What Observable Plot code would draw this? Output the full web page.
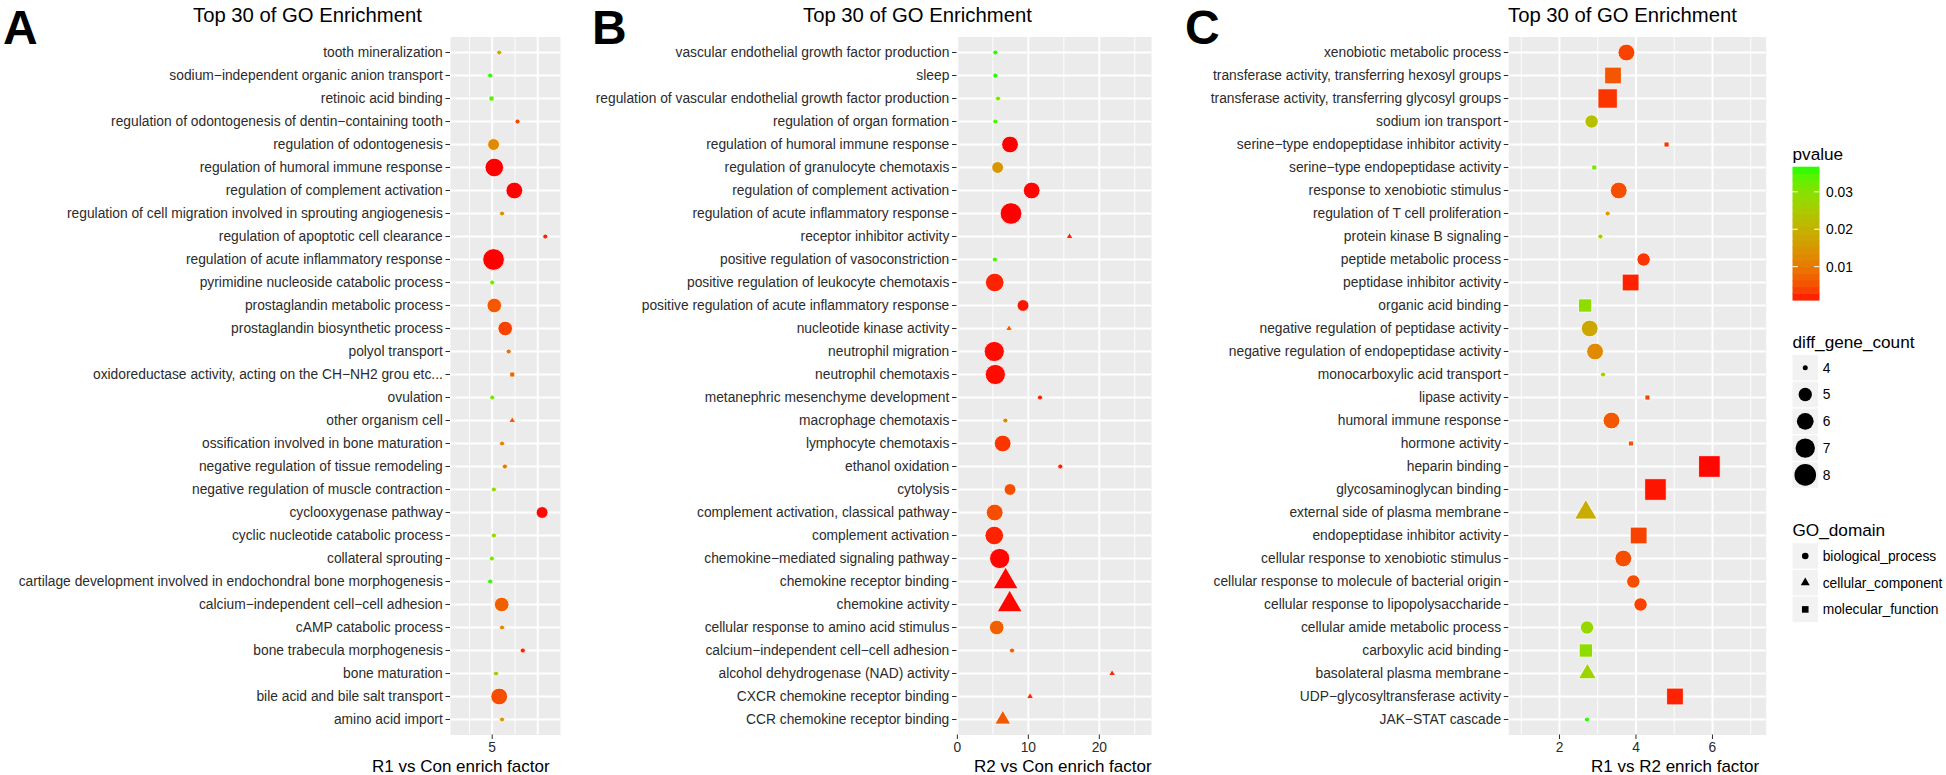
<!DOCTYPE html>
<html>
<head>
<meta charset="utf-8">
<script src="https://cdn.jsdelivr.net/npm/d3@7"></script>
<script src="https://cdn.jsdelivr.net/npm/@observablehq/plot@0.6"></script>
<style>
  html, body { margin: 0; padding: 0; background: #fff; }
  #root { position: relative; width: 1946px; height: 775px; overflow: hidden;
          font-family: "Liberation Sans", Arial, Helvetica, sans-serif; color: #000; }
  .abs { position: absolute; white-space: nowrap; line-height: 1; }
  .letter { font-weight: bold; font-size: 48px; line-height: normal; }
  .title { font-size: 20.3px; }
  .axtitle { font-size: 17px; }
</style>
</head>
<body>
<div id="root"></div>
<script>
// ---------------- DATA ----------------
const BP = "biological_process", CC = "cellular_component", MF = "molecular_function";
const goLevels = [BP, CC, MF];

// Panel A : R1 vs Con
const termsA = [
  "tooth mineralization",
  "sodium\u2212independent organic anion transport",
  "retinoic acid binding",
  "regulation of odontogenesis of dentin\u2212containing tooth",
  "regulation of odontogenesis",
  "regulation of humoral immune response",
  "regulation of complement activation",
  "regulation of cell migration involved in sprouting angiogenesis",
  "regulation of apoptotic cell clearance",
  "regulation of acute inflammatory response",
  "pyrimidine nucleoside catabolic process",
  "prostaglandin metabolic process",
  "prostaglandin biosynthetic process",
  "polyol transport",
  "oxidoreductase activity, acting on the CH\u2212NH2 grou etc...",
  "ovulation",
  "other organism cell",
  "ossification involved in bone maturation",
  "negative regulation of tissue remodeling",
  "negative regulation of muscle contraction",
  "cyclooxygenase pathway",
  "cyclic nucleotide catabolic process",
  "collateral sprouting",
  "cartilage development involved in endochondral bone morphogenesis",
  "calcium\u2212independent cell\u2212cell adhesion",
  "cAMP catabolic process",
  "bone trabecula morphogenesis",
  "bone maturation",
  "bile acid and bile salt transport",
  "amino acid import"
];
const enrichA = [5.77, 4.77, 4.92, 7.78, 5.15, 5.23, 7.43, 6.08, 10.83, 5.15,
                 5.00, 5.23, 6.43, 6.81, 7.20, 5.00, 7.20, 6.08, 6.39, 5.19,
                 10.48, 5.19, 4.96, 4.77, 6.04, 6.08, 8.36, 5.42, 5.77, 6.08];
const countA  = [2, 2, 2, 2, 3, 6, 5, 2, 2, 8,
                 2, 4, 4, 2, 2, 2, 2, 2, 2, 2,
                 3, 2, 2, 2, 4, 2, 2, 2, 5, 2];
const pvalA   = [0.019, 0.036, 0.034, 0.004, 0.013, 0.0011, 0.0011, 0.014, 0.002, 0.0011,
                 0.032, 0.006, 0.004, 0.009, 0.008, 0.032, 0.006, 0.012, 0.010, 0.028,
                 0.0012, 0.028, 0.032, 0.036, 0.007, 0.013, 0.002, 0.024, 0.005, 0.015];
const goA     = [BP, BP, MF, BP, BP, BP, BP, BP, BP, BP,
                 BP, BP, BP, BP, MF, BP, CC, BP, BP, BP,
                 BP, BP, BP, BP, BP, BP, BP, BP, BP, BP];
const ticksA = [5], gridMajorA = [5, 10], gridMinorA = [2.5, 7.5];

// Panel B : R2 vs Con
const termsB = [
  "vascular endothelial growth factor production",
  "sleep",
  "regulation of vascular endothelial growth factor production",
  "regulation of organ formation",
  "regulation of humoral immune response",
  "regulation of granulocyte chemotaxis",
  "regulation of complement activation",
  "regulation of acute inflammatory response",
  "receptor inhibitor activity",
  "positive regulation of vasoconstriction",
  "positive regulation of leukocyte chemotaxis",
  "positive regulation of acute inflammatory response",
  "nucleotide kinase activity",
  "neutrophil migration",
  "neutrophil chemotaxis",
  "metanephric mesenchyme development",
  "macrophage chemotaxis",
  "lymphocyte chemotaxis",
  "ethanol oxidation",
  "cytolysis",
  "complement activation, classical pathway",
  "complement activation",
  "chemokine\u2212mediated signaling pathway",
  "chemokine receptor binding",
  "chemokine activity",
  "cellular response to amino acid stimulus",
  "calcium\u2212independent cell\u2212cell adhesion",
  "alcohol dehydrogenase (NAD) activity",
  "CXCR chemokine receptor binding",
  "CCR chemokine receptor binding"
];
const enrichB = [5.35, 5.35, 5.73, 5.35, 7.42, 5.68, 10.47, 7.56, 15.8, 5.30,
                 5.26, 9.25, 7.28, 5.20, 5.35, 11.64, 6.76, 6.38, 14.5, 7.42,
                 5.26, 5.20, 5.96, 6.80, 7.37, 5.54, 7.70, 21.8, 10.25, 6.40];
const countB  = [2, 2, 2, 2, 5, 3, 5, 8, 2, 2,
                 6, 3, 2, 7, 7, 2, 2, 5, 2, 3,
                 5, 6, 7, 6, 6, 4, 2, 2, 2, 3];
const pvalB   = [0.036, 0.036, 0.031, 0.035, 0.0011, 0.015, 0.0012, 0.0011, 0.002, 0.035,
                 0.002, 0.0015, 0.007, 0.0013, 0.0013, 0.002, 0.012, 0.003, 0.002, 0.005,
                 0.005, 0.002, 0.0012, 0.0012, 0.0012, 0.007, 0.007, 0.002, 0.002, 0.006];
const goB     = [BP, BP, BP, BP, BP, BP, BP, BP, MF, BP,
                 BP, BP, MF, BP, BP, BP, BP, BP, BP, BP,
                 BP, BP, BP, MF, MF, BP, BP, MF, MF, MF];
const ticksB = [0, 10, 20], gridMajorB = [0, 10, 20], gridMinorB = [5, 15, 25];

// Panel C : R1 vs R2
const termsC = [
  "xenobiotic metabolic process",
  "transferase activity, transferring hexosyl groups",
  "transferase activity, transferring glycosyl groups",
  "sodium ion transport",
  "serine\u2212type endopeptidase inhibitor activity",
  "serine\u2212type endopeptidase activity",
  "response to xenobiotic stimulus",
  "regulation of T cell proliferation",
  "protein kinase B signaling",
  "peptide metabolic process",
  "peptidase inhibitor activity",
  "organic acid binding",
  "negative regulation of peptidase activity",
  "negative regulation of endopeptidase activity",
  "monocarboxylic acid transport",
  "lipase activity",
  "humoral immune response",
  "hormone activity",
  "heparin binding",
  "glycosaminoglycan binding",
  "external side of plasma membrane",
  "endopeptidase inhibitor activity",
  "cellular response to xenobiotic stimulus",
  "cellular response to molecule of bacterial origin",
  "cellular response to lipopolysaccharide",
  "cellular amide metabolic process",
  "carboxylic acid binding",
  "basolateral plasma membrane",
  "UDP\u2212glycosyltransferase activity",
  "JAK\u2212STAT cascade"
];
const enrichC = [3.75, 3.40, 3.26, 2.84, 4.80, 2.91, 3.55, 3.26, 3.07, 4.20,
                 3.86, 2.67, 2.79, 2.93, 3.14, 4.30, 3.36, 3.87, 5.92, 4.51,
                 2.69, 4.07, 3.67, 3.93, 4.12, 2.72, 2.69, 2.73, 5.02, 2.72];
const countC  = [6, 6, 7, 5, 4, 4, 6, 4, 4, 5,
                 6, 5, 6, 6, 4, 4, 6, 4, 8, 8,
                 6, 6, 6, 5, 5, 5, 5, 5, 6, 4];
const pvalC   = [0.004, 0.006, 0.003, 0.023, 0.003, 0.031, 0.005, 0.016, 0.025, 0.003,
                 0.002, 0.029, 0.018, 0.013, 0.025, 0.004, 0.006, 0.006, 0.0012, 0.0015,
                 0.019, 0.004, 0.005, 0.005, 0.004, 0.028, 0.029, 0.027, 0.002, 0.036];
const goC     = [BP, MF, MF, BP, MF, MF, BP, BP, BP, BP,
                 MF, MF, BP, BP, BP, MF, BP, MF, MF, MF,
                 CC, MF, BP, BP, BP, BP, MF, CC, MF, BP];
const ticksC = [2, 4, 6], gridMajorC = [2, 4, 6], gridMinorC = [1, 3, 5, 7];

// legend values
const pTicks = [0.01, 0.02, 0.03];
const countLegend = [4, 5, 6, 7, 8];

// ---------------- STYLE ----------------
const FONT = '"Liberation Sans", Arial, Helvetica, sans-serif';
const root = document.getElementById("root");

// ggplot-like solid shapes (circle 19, triangle 17, square 15)
const symCircle = {draw(ctx, size) { const r = Math.sqrt(size / Math.PI); ctx.moveTo(r, 0); ctx.arc(0, 0, r, 0, 2 * Math.PI); }};
const symTriangle = {draw(ctx, size) { const r = Math.sqrt(size / Math.PI);
  const t0 = 1.5551 * r, t1 = 1.3468 * r, t2 = 0.7776 * r;
  ctx.moveTo(0, -t0); ctx.lineTo(t1, t2); ctx.lineTo(-t1, t2); ctx.closePath(); }};
const symSquare = {draw(ctx, size) { const r = Math.sqrt(size / Math.PI); ctx.rect(-r, -r, 2 * r, 2 * r); }};
const shapeList = [symCircle, symTriangle, symSquare];

const colorOpts = {type: "linear", domain: [0.0011, 0.0367], range: ["#FF0000", "#00FF00"],
                   interpolate: d3.interpolateLab, clamp: true};
const R_MIN = 2.5, R_MAX = 10.8;

function addDiv(cls, text, left, top, extra) {
  const d = document.createElement("div");
  d.className = "abs " + cls;
  d.textContent = text;
  d.style.left = left + "px";
  d.style.top = top + "px";
  if (extra) Object.assign(d.style, extra);
  root.appendChild(d);
  return d;
}

function makePanel(cfg) {
  const data = cfg.terms.map((t, i) => ({term: t, x: cfg.enrich[i], n: cfg.count[i], p: cfg.pval[i], go: cfg.go[i]}));
  const present = goLevels.filter(l => cfg.go.includes(l));
  const plot = Plot.plot({
    width: cfg.width, height: 775,
    marginLeft: cfg.marginLeft, marginRight: cfg.marginRight,
    marginTop: 36.5, marginBottom: 40.5,
    style: {fontFamily: FONT, fontSize: "13.8px", color: "#2b2b2b", background: "transparent", overflow: "visible", maxWidth: "none"},
    x: {domain: cfg.xDomain},
    y: {type: "point", domain: cfg.terms, padding: 0.6},
    r: {type: "sqrt", domain: [0, cfg.cmax - cfg.cmin], range: [R_MIN, R_MAX]},
    color: colorOpts,
    symbol: {domain: present, range: present.map((l, i) => shapeList[i])},
    marks: [
      Plot.frame({fill: "#EBEBEB", stroke: "none"}),
      Plot.ruleX(cfg.gridMinor, {stroke: "white", strokeWidth: 0.9}),
      Plot.ruleX(cfg.gridMajor, {stroke: "white", strokeWidth: 1.9}),
      Plot.ruleY(cfg.terms, {stroke: "white", strokeWidth: 1.9}),
      Plot.axisY({tickSize: 4.5, tickPadding: 3.2, label: null}),
      Plot.axisX({ticks: cfg.ticks, tickSize: 4.5, tickPadding: 2.3, label: null, tickFormat: d => String(d)}),
      Plot.dot(data, {x: "x", y: "term", r: d => d.n - cfg.cmin, fill: "p", symbol: "go",
                      stroke: "white", strokeWidth: 0.8, sort: null})
    ]
  });
  const wrap = document.createElement("div");
  wrap.className = "abs";
  wrap.style.left = cfg.left + "px";
  wrap.style.top = "0px";
  wrap.appendChild(plot);
  root.appendChild(wrap);
  return plot;
}

makePanel({terms: termsA, enrich: enrichA, count: countA, pval: pvalA, go: goA,
  left: 0, width: 562, marginLeft: 450, marginRight: 2, xDomain: [0.42, 12.5],
  ticks: ticksA, gridMajor: gridMajorA, gridMinor: gridMinorA, cmin: 2, cmax: 8});
makePanel({terms: termsB, enrich: enrichB, count: countB, pval: pvalB, go: goB,
  left: 575, width: 578, marginLeft: 381.5, marginRight: 2, xDomain: [-0.05, 27.35],
  ticks: ticksB, gridMajor: gridMajorB, gridMinor: gridMinorB, cmin: 2, cmax: 8});
makePanel({terms: termsC, enrich: enrichC, count: countC, pval: pvalC, go: goC,
  left: 1160, width: 608, marginLeft: 348.3, marginRight: 2.3, xDomain: [0.675, 7.405],
  ticks: ticksC, gridMajor: gridMajorC, gridMinor: gridMinorC, cmin: 4, cmax: 8});

// letters, titles, axis titles
addDiv("letter", "A", 3, 0);
addDiv("letter", "B", 592, 0);
addDiv("letter", "C", 1185, 0);
addDiv("title", "Top 30 of GO Enrichment", 193, 5.3);
addDiv("title", "Top 30 of GO Enrichment", 803, 5.3);
addDiv("title", "Top 30 of GO Enrichment", 1508, 5.3);
addDiv("axtitle", "R1 vs Con enrich factor", 372, 758.3);
addDiv("axtitle", "R2 vs Con enrich factor", 974, 758.3);
addDiv("axtitle", "R1 vs R2 enrich factor", 1591, 758.3);

// ---------------- LEGENDS (panel C) ----------------
const colorScale = Plot.scale({color: colorOpts});
const rScaleC = Plot.scale({r: {type: "sqrt", domain: [0, 4], range: [R_MIN, R_MAX]}});
const svg = d3.select(root).append("svg")
  .attr("width", 1946).attr("height", 775)
  .style("position", "absolute").style("left", "0px").style("top", "0px")
  .style("font-family", FONT);

const LX = 1792.5;
// pvalue colorbar
svg.append("text").attr("x", LX).attr("y", 160).attr("font-size", 17.2).attr("fill", "#000").text("pvalue");
const barTop = 166.7, barBot = 300, barW = 27;
const [p0, p1] = colorOpts.domain;
const nbin = 20;
for (let i = 0; i < nbin; i++) {
  const v = p0 + (p1 - p0) * (i + 0.5) / nbin;
  const yTop = barBot - (i + 1) * (barBot - barTop) / nbin;
  svg.append("rect").attr("x", LX).attr("y", yTop).attr("width", barW)
     .attr("height", (barBot - barTop) / nbin + 0.6).attr("fill", colorScale.apply(v));
}
const pY = v => barBot - (v - p0) / (p1 - p0) * (barBot - barTop);
pTicks.forEach(v => {
  const y = pY(v);
  svg.append("line").attr("x1", LX).attr("x2", LX + barW / 5).attr("y1", y).attr("y2", y).attr("stroke", "white").attr("stroke-width", 1);
  svg.append("line").attr("x1", LX + barW * 4 / 5).attr("x2", LX + barW).attr("y1", y).attr("y2", y).attr("stroke", "white").attr("stroke-width", 1);
  svg.append("text").attr("x", 1826).attr("y", y).attr("dy", "0.35em").attr("font-size", 13.8).attr("fill", "#000").text(String(v));
});

// diff_gene_count
svg.append("text").attr("x", LX).attr("y", 348).attr("font-size", 17.2).attr("fill", "#000").text("diff_gene_count");
const sizeY0 = 367.7, sizeStep = 26.8, keyW = 25.5;
countLegend.forEach((c, i) => {
  const y = sizeY0 + i * sizeStep;
  svg.append("rect").attr("x", LX).attr("y", y - keyW / 2).attr("width", keyW).attr("height", keyW).attr("fill", "#F2F2F2");
  svg.append("circle").attr("cx", LX + keyW / 2).attr("cy", y).attr("r", rScaleC.apply(c - 4)).attr("fill", "#000");
  svg.append("text").attr("x", 1822.7).attr("y", y).attr("dy", "0.35em").attr("font-size", 13.8).attr("fill", "#000").text(String(c));
});

// GO_domain
svg.append("text").attr("x", LX).attr("y", 536).attr("font-size", 17.2).attr("fill", "#000").text("GO_domain");
goLevels.forEach((g, i) => {
  const y = 556 + i * 26.7;
  svg.append("rect").attr("x", LX).attr("y", y - keyW / 2).attr("width", keyW).attr("height", keyW).attr("fill", "#F2F2F2");
  svg.append("path").attr("transform", `translate(${LX + keyW / 2},${y})`)
     .attr("d", d3.symbol(shapeList[i], Math.PI * 3.3 * 3.3)()).attr("fill", "#000");
  svg.append("text").attr("x", 1822.7).attr("y", y).attr("dy", "0.35em").attr("font-size", 13.8).attr("fill", "#000").text(g);
});
</script>
</body>
</html>
